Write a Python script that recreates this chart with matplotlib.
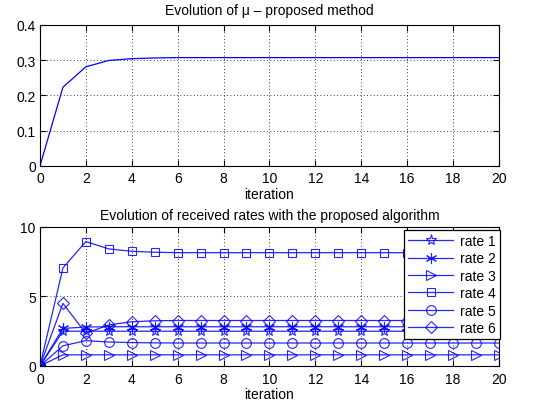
import matplotlib
matplotlib.use("Agg")
import matplotlib.pyplot as plt
import numpy as np

plt.rcParams['font.family'] = ['Liberation Sans', 'DejaVu Sans']

iterations = list(range(21))
mu = [0, 0.223, 0.281, 0.299, 0.304, 0.306, 0.307] + [0.307] * 14

rate1 = [0, 2.5] + [2.5] * 19
rate2 = [0, 2.7, 2.8] + [2.82] * 18
rate3 = [0, 0.8] + [0.8] * 19
rate4 = [0, 7.05, 8.95, 8.42, 8.25, 8.18, 8.15] + [8.15] * 14
rate5 = [0, 1.45, 1.82, 1.72, 1.68, 1.66] + [1.65] * 15
rate6 = [0, 4.5, 2.35, 2.95, 3.18, 3.25, 3.27] + [3.27] * 14

rates = [rate1, rate2, rate3, rate4, rate5, rate6]
labels = ['rate 1', 'rate 2', 'rate 3', 'rate 4', 'rate 5', 'rate 6']
markers = ['*', (6, 2, 0), '>', 's', 'o', 'D']
msizes = [8, 8, 7, 6, 7, 6]

blue = '#0000ff'
fig = plt.figure(figsize=(5.33, 4.10), dpi=100)

def style(ax):
    ax.tick_params(direction='in', top=True, right=True, labelsize=10, length=4)
    ax.tick_params(axis='x', pad=4)
    ax.tick_params(axis='y', pad=3)
    ax.grid(True, linestyle=(0, (1, 3)), color='black', linewidth=0.6)
    for s in ax.spines.values():
        s.set_linewidth(0.8)

ax1 = fig.add_axes([0.075, 0.593, 0.861, 0.344])
ax1.plot(iterations, mu, color=blue, linewidth=0.9)
ax1.set_xlim(0, 20)
ax1.set_ylim(0, 0.4)
ax1.set_xticks(range(0, 21, 2))
ax1.set_yticks([0, 0.1, 0.2, 0.3, 0.4])
ax1.set_yticklabels(['0', '0.1', '0.2', '0.3', '0.4'])
ax1.set_xlabel('iteration', fontsize=10, labelpad=1)
ax1.set_title('Evolution of μ – proposed method', fontsize=10, pad=8)
style(ax1)

ax2 = fig.add_axes([0.075, 0.105, 0.861, 0.339])
for r, lab, m, ms in zip(rates, labels, markers, msizes):
    ax2.plot(iterations, r, color=blue, linewidth=0.9, marker=m, markersize=ms,
             markerfacecolor='none', markeredgecolor=blue, markeredgewidth=0.8,
             label=lab, alpha=0.85)
ax2.plot([0], [0], marker='o', markersize=6, color=blue, alpha=0.85)
ax2.set_xlim(0, 20)
ax2.set_ylim(0, 10)
ax2.set_xticks(range(0, 21, 2))
ax2.set_yticks([0, 5, 10])
ax2.set_xlabel('iteration', fontsize=10, labelpad=1)
ax2.set_title('Evolution of received rates with the proposed algorithm', fontsize=10, pad=6)
style(ax2)
leg = ax2.legend(loc='upper right', bbox_to_anchor=(1.002, 0.98), fontsize=10, frameon=True,
                 fancybox=False, edgecolor='black', framealpha=1, borderaxespad=0.0,
                 handlelength=3.2, labelspacing=0.25, borderpad=0.3, handletextpad=0.5)
leg.get_frame().set_linewidth(0.9)

fig.savefig('out.png', dpi=100)
